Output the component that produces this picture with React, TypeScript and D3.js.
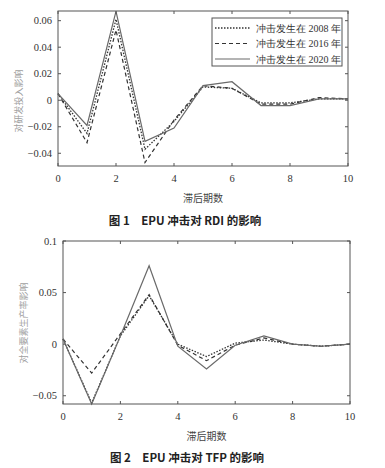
import { useEffect, useRef } from 'react';
import * as d3 from 'd3';

// lag periods on the x axis
const lags = [0, 1, 2, 3, 4, 5, 6, 7, 8, 9, 10];
const xTicks = [0, 2, 4, 6, 8, 10];

// Fig 1: response of RDI
const rdi2008 = [0.005, -0.025, 0.061, -0.037, -0.016, 0.010, 0.009, -0.002, -0.002, 0.001, 0.001];
const rdi2016 = [0.005, -0.032, 0.053, -0.047, -0.015, 0.011, 0.009, -0.003, -0.003, 0.002, 0.001];
const rdi2020 = [0.005, -0.019, 0.067, -0.031, -0.021, 0.011, 0.014, -0.004, -0.004, 0.001, 0.001];
const rdiTicks = [-0.04, -0.02, 0, 0.02, 0.04, 0.06];

// Fig 2: response of TFP
const tfp2008 = [0.005, -0.057, 0.008, 0.047, 0.000, -0.012, 0.001, 0.004, 0.000, -0.002, 0.000];
const tfp2016 = [0.005, -0.028, 0.010, 0.048, -0.001, -0.016, -0.001, 0.006, 0.000, -0.002, 0.000];
const tfp2020 = [0.005, -0.058, 0.008, 0.076, -0.002, -0.024, -0.001, 0.008, 0.000, -0.002, 0.000];
const tfpTicks = [-0.05, 0, 0.05, 0.1];

const legendLabels = ['冲击发生在 2008 年', '冲击发生在 2016 年', '冲击发生在 2020 年'];
const seriesStyle = [
  { color: '#333', dash: '1.5,1.5', width: 1.3 },
  { color: '#333', dash: '4,3', width: 1.2 },
  { color: '#6a6a6a', dash: null, width: 1.2 },
];

const serif = "'Liberation Serif', 'Times New Roman', 'DejaVu Serif', serif";
const cjk = "'Noto Sans CJK SC', sans-serif";

const fmtTick = (v) => (v === 0 ? '0' : v.toString().replace('-', '\u2212'));

function drawPanel(svg, opt) {
  const g = svg.append('g');
  const x = d3.scaleLinear().domain([0, 10]).range([opt.left, opt.right]);
  const y = d3.scaleLinear().domain(opt.yDomain).range([opt.bottom, opt.top]);

  // lines
  const line = d3.line().x((d, i) => x(lags[i])).y((d) => y(d));
  opt.series.forEach((s, i) => {
    const st = seriesStyle[i];
    g.append('path')
      .datum(s)
      .attr('fill', 'none')
      .attr('stroke', st.color)
      .attr('stroke-width', st.width)
      .attr('stroke-dasharray', st.dash)
      .attr('d', line);
  });

  // box
  g.append('rect')
    .attr('x', opt.left).attr('y', opt.top)
    .attr('width', opt.right - opt.left).attr('height', opt.bottom - opt.top)
    .attr('fill', 'none').attr('stroke', '#555').attr('stroke-width', 1);

  // ticks inward on all sides
  const tk = 3;
  xTicks.forEach((t) => {
    g.append('line').attr('x1', x(t)).attr('x2', x(t)).attr('y1', opt.bottom).attr('y2', opt.bottom - tk).attr('stroke', '#555');
    g.append('line').attr('x1', x(t)).attr('x2', x(t)).attr('y1', opt.top).attr('y2', opt.top + tk).attr('stroke', '#555');
    g.append('text')
      .attr('x', x(t)).attr('y', opt.bottom + 16)
      .attr('text-anchor', 'middle')
      .attr('font-family', serif).attr('font-size', 10.5).attr('fill', '#333')
      .text(t);
  });
  opt.yTicks.forEach((t) => {
    g.append('line').attr('x1', opt.left).attr('x2', opt.left + tk).attr('y1', y(t)).attr('y2', y(t)).attr('stroke', '#555');
    g.append('line').attr('x1', opt.right).attr('x2', opt.right - tk).attr('y1', y(t)).attr('y2', y(t)).attr('stroke', '#555');
    g.append('text')
      .attr('x', opt.left - 6).attr('y', y(t) + 3.5)
      .attr('text-anchor', 'end')
      .attr('font-family', serif).attr('font-size', 10.5).attr('fill', '#333')
      .text(fmtTick(t));
  });

  // y label
  g.append('text')
    .attr('transform', `translate(${opt.yLabelX},${opt.yLabelY}) rotate(-90)`)
    .attr('text-anchor', 'middle')
    .attr('font-family', cjk).attr('font-size', 9).attr('fill', '#a0a0a0')
    .text(opt.yLabel);

  // x label
  g.append('text')
    .attr('x', (opt.left + opt.right) / 2).attr('y', opt.bottom + 36)
    .attr('text-anchor', 'middle')
    .attr('font-family', cjk).attr('font-size', 10).attr('fill', '#444')
    .text('滞后期数');

  // caption
  g.append('text')
    .attr('x', opt.titleX).attr('y', opt.titleY)
    .attr('text-anchor', 'middle')
    .attr('font-family', cjk).attr('font-size', 11.5).attr('font-weight', 'bold').attr('fill', '#222')
    .text(opt.title);

  if (opt.legend) {
    const lg = g.append('g');
    lg.append('rect')
      .attr('x', 212).attr('y', 18).attr('width', 130).attr('height', 48)
      .attr('fill', 'white').attr('stroke', '#555').attr('stroke-width', 1);
    legendLabels.forEach((lab, i) => {
      const yy = 28 + i * 15.5;
      const st = seriesStyle[i];
      lg.append('line')
        .attr('x1', 215).attr('x2', 250).attr('y1', yy).attr('y2', yy)
        .attr('stroke', st.color).attr('stroke-width', st.width)
        .attr('stroke-dasharray', st.dash);
      lg.append('text')
        .attr('x', 256).attr('y', yy + 3.5)
        .attr('font-family', serif).attr('font-size', 10).attr('fill', '#333')
        .text(lab);
    });
  }
}

const App = () => {
  const ref = useRef(null);

  useEffect(() => {
    const svg = d3.select(ref.current);
    svg.selectAll('*').remove();
    svg.append('rect').attr('width', 385).attr('height', 468).attr('fill', 'white');

    drawPanel(svg, {
      left: 58, right: 348, top: 11, bottom: 166,
      yDomain: [-0.0496, 0.0673],
      yTicks: rdiTicks,
      series: [rdi2008, rdi2016, rdi2020],
      yLabel: '对研发投入影响',
      yLabelX: 22, yLabelY: 101,
      title: '图 1　EPU 冲击对 RDI 的影响',
      titleX: 185, titleY: 225,
      legend: true,
    });

    drawPanel(svg, {
      left: 63, right: 350, top: 241, bottom: 404,
      yDomain: [-0.058, 0.1],
      yTicks: tfpTicks,
      series: [tfp2008, tfp2016, tfp2020],
      yLabel: '对全要素生产率影响',
      yLabelX: 27, yLabelY: 323,
      title: '图 2　EPU 冲击对 TFP 的影响',
      titleX: 187, titleY: 462,
      legend: false,
    });
  }, []);

  return (
    <svg ref={ref} width={385} height={468} style={{ position: 'absolute', left: 0, top: 0 }} />
  );
};

export default App;
